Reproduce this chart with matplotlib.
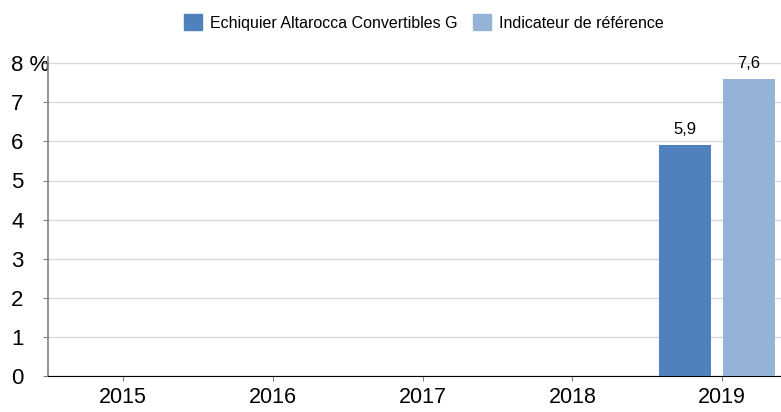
import numpy as np
import matplotlib.pyplot as plt
from matplotlib.patches import Patch

years = ['2015', '2016', '2017', '2018', '2019']
fund = [np.nan, np.nan, np.nan, np.nan, 5.9]
bench = [np.nan, np.nan, np.nan, np.nan, 7.6]
fund_name = 'Echiquier Altarocca Convertibles G'
bench_name = 'Indicateur de référence'
ytick_labels = ['0', '1', '2', '3', '4', '5', '6', '7', '8 %']

c_fund = '#4f81bd'
c_bench = '#95b3d7'

plt.rcParams['font.family'] = ['Liberation Sans', 'DejaVu Sans']

fig = plt.figure(figsize=(7.81, 4.12), dpi=100)
ymax = 8.15
ax = fig.add_axes([48/781, 36/412, 1 - 48/781, ymax*39.1/412])

x = np.arange(len(years))
ax.bar(x - 0.247, fund, width=0.347, color=c_fund, zorder=3)
ax.bar(x + 0.18, bench, width=0.347, color=c_bench, zorder=3)

# value labels
for xi, v in zip(x, fund):
    if not np.isnan(v):
        ax.text(xi - 0.247, v + 0.2, f'{v:.1f}'.replace('.', ','), ha='center', va='bottom', fontsize=12)
for xi, v in zip(x, bench):
    if not np.isnan(v):
        ax.text(xi + 0.18, v + 0.2, f'{v:.1f}'.replace('.', ','), ha='center', va='bottom', fontsize=12)

ax.set_xlim(-0.5, 4.393)
ax.set_ylim(0, ymax)
ax.set_xticks(x)
ax.set_xticklabels(years, fontsize=15.5)
ax.set_yticks(range(9))
ax.set_yticklabels(ytick_labels, fontsize=16)
for lab in ax.get_yticklabels():
    lab.set_horizontalalignment('left')
ax.yaxis.grid(True, color='#d9d9d9', linewidth=1, zorder=0)
ax.set_axisbelow(True)

for s in ['top', 'right']:
    ax.spines[s].set_visible(False)
ax.spines['left'].set_color('#808080')
ax.spines['left'].set_linewidth(1.2)
ax.spines['bottom'].set_color('black')
ax.tick_params(axis='y', length=3.6, color='#808080', pad=23)
ax.tick_params(axis='x', length=3.6, color='#808080', pad=4.5)

handles = [Patch(color=c_fund, label=fund_name), Patch(color=c_bench, label=bench_name)]
fig.legend(handles=handles, loc='center', bbox_to_anchor=(0.543, 1 - 22.5/412), ncol=2,
           frameon=False, fontsize=11.5, handlelength=1.13, handleheight=1.13, columnspacing=0.94,
           handletextpad=0.5, borderpad=0)

fig.savefig('out.png', dpi=100)
